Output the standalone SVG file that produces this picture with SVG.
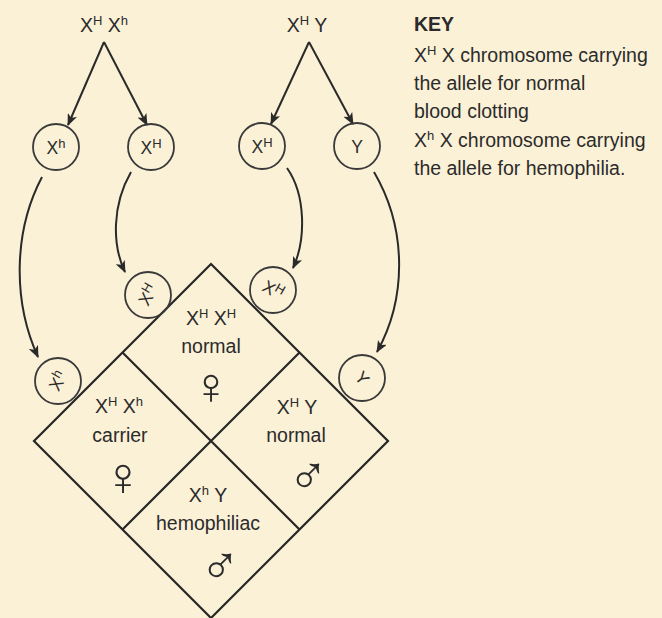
<svg xmlns="http://www.w3.org/2000/svg" width="662" height="618" viewBox="0 0 662 618">
<defs>
<style>
text{font-family:"Liberation Sans",Arial,sans-serif;fill:#2b2b2b;}
.lbl{font-size:19.5px;text-anchor:middle;}
.sm{font-size:17.5px;text-anchor:middle;}
.key{font-size:19.5px;}
.sup{font-size:13px;}
.sym{font-family:"Liberation Sans",Arial,sans-serif;font-size:54px;text-anchor:middle;}
.cir{fill:none;stroke:#3a3a3a;stroke-width:1.8;}
.con{fill:none;stroke:#2a2a2a;stroke-width:2;marker-end:url(#ah);}
.dia{fill:none;stroke:#262626;stroke-width:2.2;stroke-linejoin:miter;}
</style>
<marker id="ah" viewBox="0 0 12 10" refX="11" refY="5" markerWidth="12" markerHeight="10" markerUnits="userSpaceOnUse" orient="auto">
<path d="M0,0 L12,5 L0,10 L3,5 z" fill="#2a2a2a"/>
</marker>
</defs>
<rect width="662" height="618" fill="#fbf1d7"/>

<g id="parents">
<text class="lbl" x="104" y="32">X<tspan class="sup" dy="-7">H</tspan><tspan dy="7"> X</tspan><tspan class="sup" dy="-7">h</tspan></text>
<text class="lbl" x="307" y="32">X<tspan class="sup" dy="-7">H</tspan><tspan dy="7"> Y</tspan></text>
</g>

<g id="connectors">
<path class="con" d="M104,42 L68,125"/>
<path class="con" d="M104,42 L147,125"/>
<path class="con" d="M309,42 L271,124"/>
<path class="con" d="M309,42 L353,124"/>
<path class="con" d="M42,177 C14,230 12,300 38,357"/>
<path class="con" d="M131,172 C112,205 112,245 125,272"/>
<path class="con" d="M287,168 C306,195 306,240 293,268"/>
<path class="con" d="M374,172 C408,230 406,300 377,352"/>
</g>

<g id="gamete-Xh">
<circle class="cir" cx="56" cy="147" r="23"/>
<text class="sm" x="56" y="154">X<tspan class="sup" dy="-6">h</tspan></text>
</g>
<g id="gamete-XH-mother">
<circle class="cir" cx="151" cy="147" r="23"/>
<text class="sm" x="151" y="154">X<tspan class="sup" dy="-6">H</tspan></text>
</g>
<g id="gamete-XH-father">
<circle class="cir" cx="262" cy="146" r="23"/>
<text class="sm" x="262" y="153">X<tspan class="sup" dy="-6">H</tspan></text>
</g>
<g id="gamete-Y">
<circle class="cir" cx="357" cy="146" r="23"/>
<text class="sm" x="357" y="153">Y</text>
</g>

<g id="diamond">
<path class="dia" d="M211,264 L388,441 L211,618 L34,441 Z"/>
<path class="dia" d="M122.5,352.5 L299.5,529.5 M299.5,352.5 L122.5,529.5"/>
</g>

<g id="edge-XH-left">
<circle class="cir" cx="148" cy="295" r="23"/>
<text class="sm" transform="translate(148,295) rotate(-60)" x="0" y="6">X<tspan class="sup" dy="-6">H</tspan></text>
</g>
<g id="edge-XH-right">
<circle class="cir" cx="273" cy="290" r="23"/>
<text class="sm" transform="translate(273,290) rotate(30)" x="0" y="6">X<tspan class="sup" dy="-6">H</tspan></text>
</g>
<g id="edge-Xh">
<circle class="cir" cx="58" cy="381" r="23"/>
<text class="sm" transform="translate(58,381) rotate(-60)" x="0" y="6">X<tspan class="sup" dy="-6">h</tspan></text>
</g>
<g id="edge-Y">
<circle class="cir" cx="362" cy="378" r="23"/>
<text class="sm" transform="translate(362,378) rotate(50)" x="0" y="6">Y</text>
</g>

<g id="cell-top">
<text class="lbl" x="211" y="325">X<tspan class="sup" dy="-7">H</tspan><tspan dy="7"> X</tspan><tspan class="sup" dy="-7">H</tspan></text>
<text class="lbl" x="211" y="353">normal</text>
<text class="sym" x="211" y="404" style="font-size:52px">♀</text>
</g>
<g id="cell-left">
<text class="lbl" x="119" y="413">X<tspan class="sup" dy="-7">H</tspan><tspan dy="7"> X</tspan><tspan class="sup" dy="-7">h</tspan></text>
<text class="lbl" x="120" y="442">carrier</text>
<text class="sym" x="123" y="495">♀</text>
</g>
<g id="cell-right">
<text class="lbl" x="297" y="414">X<tspan class="sup" dy="-7">H</tspan><tspan dy="7"> Y</tspan></text>
<text class="lbl" x="296" y="442">normal</text>
<text class="sym" x="308" y="494">♂</text>
</g>
<g id="cell-bottom">
<text class="lbl" x="208" y="502">X<tspan class="sup" dy="-7">h</tspan><tspan dy="7"> Y</tspan></text>
<text class="lbl" x="208" y="530">hemophiliac</text>
<text class="sym" x="220" y="584">♂</text>
</g>

<g id="key">
<text class="key" x="414" y="31" font-weight="bold">KEY</text>
<text class="key" x="414" y="62">X<tspan class="sup" dy="-7">H</tspan><tspan dy="7"> X chromosome carrying</tspan></text>
<text class="key" x="414" y="90">the allele for normal</text>
<text class="key" x="414" y="118">blood clotting</text>
<text class="key" x="414" y="147">X<tspan class="sup" dy="-7">h</tspan><tspan dy="7"> X chromosome carrying</tspan></text>
<text class="key" x="414" y="175">the allele for hemophilia.</text>
</g>
</svg>
